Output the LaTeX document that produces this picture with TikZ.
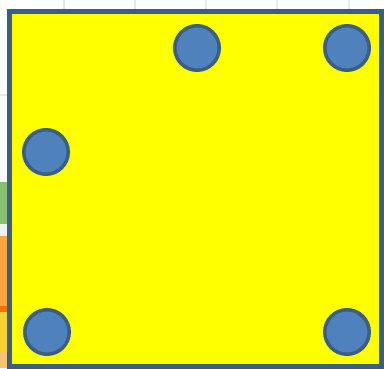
\documentclass[tikz,border=0pt]{standalone}
\usetikzlibrary{positioning}
\definecolor{boardyellow}{HTML}{FFFF00}
\definecolor{dotblue}{HTML}{4F81BD}
\definecolor{edgeblue}{HTML}{3B5E84}
\definecolor{leafgreen}{HTML}{86C06A}
\definecolor{stripeorange}{HTML}{F6A83C}
\definecolor{stripeyellow}{HTML}{F8D030}
\begin{document}
\begin{tikzpicture}[
    x=0.02cm, y=-0.02cm,
    board/.style={draw=edgeblue, line width=2.6pt, fill=boardyellow},
    dot/.style={circle, draw=edgeblue, line width=2pt, fill=dotblue, minimum size=0.89cm, inner sep=0pt},
    faint/.style={draw=gray!18, line width=0.6pt},
]
\useasboundingbox (0,0) rectangle (384,368);

% background bits peeking out
\foreach \x in {64,135,206,277,349} {
    \draw[faint] (\x,0) -- (\x,10);
}
\draw[faint] (0,95) -- (7,95);
\fill[leafgreen] (0,182) rectangle (8,224);
\fill[gray!12] (0,224) rectangle (8,236);
\fill[stripeorange] (0,236) rectangle (8,306);
\fill[orange!85!red] (0,306) rectangle (8,312);
\fill[stripeyellow] (0,312) rectangle (8,352);
\fill[stripeorange!70] (0,352) rectangle (8,368);

% the board
\draw[board] (9.5,11.5) rectangle (381.5,366.5);

% dots
\foreach \name/\px/\py in {topmid/197/48, topright/347/48, midleft/46/152, botleft/47/332, botright/347/332} {
    \node[dot] (\name) at (\px,\py) {};
}
\end{tikzpicture}
\end{document}
